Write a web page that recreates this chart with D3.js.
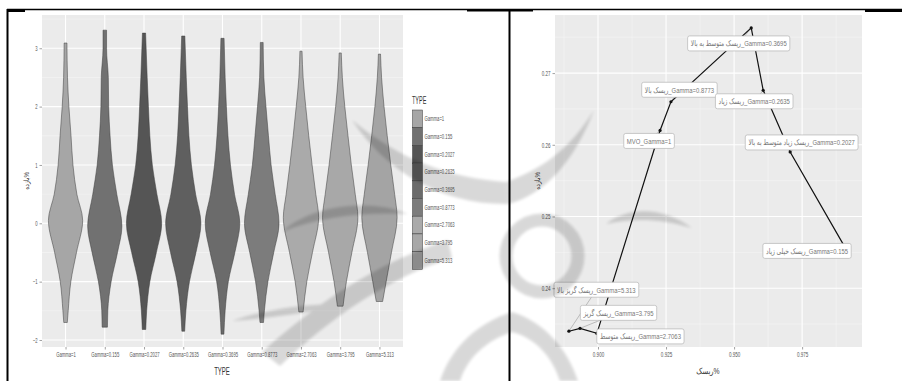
<!DOCTYPE html>
<html>
<head>
<meta charset="utf-8">
<script src="https://cdn.jsdelivr.net/npm/d3@7"></script>
<style>
  html, body { margin: 0; padding: 0; background: #fff; }
  svg { display: block; }
  .nar { font-family: 'Liberation Sans', Arial, 'DejaVu Sans', sans-serif; }
</style>
</head>
<body>
<svg id="chart" width="902" height="381"></svg>
<script>
// ---- violin panel data ----
const categories = ["Gamma=1", "Gamma=0.155", "Gamma=0.2027", "Gamma=0.2635", "Gamma=0.3695",
                    "Gamma=0.8773", "Gamma=2.7063", "Gamma=3.795", "Gamma=5.313"];
const fillGrays = ["#a6a6a6", "#717171", "#555555", "#5f5f5f", "#6b6b6b",
                   "#7c7c7c", "#aaaaaa", "#a8a8a8", "#a4a4a4"];
const returnTicks = [-2, -1, 0, 1, 2, 3];

// density profile of each violin: [return %, relative half width]
const violinGamma1 = [[3.09,0.08],[2.5,0.11],[2.0,0.19],[1.5,0.31],[1.0,0.42],[0.5,0.64],[0.05,0.97],[-0.5,0.62],[-1.0,0.30],[-1.5,0.15],[-1.70,0.10]];
const violinGamma0155 = [[3.31,0.1],[3.0,0.1],[2.5,0.2],[2.0,0.22],[1.5,0.3],[1.0,0.43],[0.5,0.68],[-0.05,0.97],[-0.5,0.72],[-1.0,0.36],[-1.5,0.17],[-1.78,0.15]];
const violinGamma02027 = [[3.26,0.09],[2.5,0.18],[2.0,0.25],[1.5,0.33],[1.0,0.47],[0.5,0.73],[0.0,1.0],[-0.5,0.7],[-1.0,0.33],[-1.5,0.15],[-1.82,0.10]];
const violinGamma02635 = [[3.21,0.09],[2.5,0.17],[2.0,0.24],[1.5,0.32],[1.0,0.46],[0.5,0.7],[0.0,1.0],[-0.5,0.72],[-1.0,0.35],[-1.5,0.15],[-1.85,0.08]];
const violinGamma03695 = [[3.17,0.09],[2.5,0.15],[2.0,0.22],[1.5,0.31],[1.0,0.45],[0.5,0.68],[0.0,0.98],[-0.5,0.7],[-1.0,0.33],[-1.5,0.15],[-1.90,0.08]];
const violinGamma08773 = [[3.10,0.08],[2.5,0.12],[2.0,0.24],[1.5,0.38],[1.0,0.53],[0.5,0.76],[0.0,0.98],[-0.5,0.68],[-1.0,0.35],[-1.5,0.15],[-1.70,0.10]];
const violinGamma27063 = [[2.95,0.06],[2.5,0.12],[2.0,0.27],[1.5,0.44],[1.0,0.63],[0.5,0.84],[0.1,1.0],[-0.5,0.65],[-1.0,0.33],[-1.52,0.12]];
const violinGamma3795 = [[2.92,0.06],[2.5,0.12],[2.0,0.26],[1.5,0.44],[1.0,0.63],[0.5,0.85],[0.1,1.0],[-0.5,0.66],[-1.0,0.35],[-1.42,0.16]];
const violinGamma5313 = [[2.90,0.06],[2.5,0.12],[2.0,0.26],[1.5,0.44],[1.0,0.64],[0.5,0.86],[0.1,1.0],[-0.5,0.68],[-1.0,0.38],[-1.34,0.18]];
const violinProfiles = [violinGamma1, violinGamma0155, violinGamma02027, violinGamma02635, violinGamma03695,
                        violinGamma08773, violinGamma27063, violinGamma3795, violinGamma5313];

// ---- efficient frontier panel data ----
const frontierRisk   = [0.8893, 0.8934, 0.8996, 0.9228, 0.9268, 0.9563, 0.9607, 0.9706, 0.9915];
const frontierReturn = [0.2340, 0.2344, 0.2337, 0.2620, 0.2660, 0.2763, 0.2676, 0.2590, 0.2452];
const frontierLabels = [
  "ریسک گریز بالا_Gamma=5.313",
  "ریسک گریز_Gamma=3.795",
  "ریسک متوسط_Gamma=2.7063",
  "MVO_Gamma=1",
  "ریسک بالا_Gamma=0.8773",
  "ریسک متوسط به بالا_Gamma=0.3695",
  "ریسک زیاد_Gamma=0.2635",
  "ریسک زیاد متوسط به بالا_Gamma=0.2027",
  "ریسک خیلی زیاد_Gamma=0.155"
];
const riskTicks = [0.900, 0.925, 0.950, 0.975];
const frontierReturnTicks = [0.24, 0.25, 0.26, 0.27];

// label placement relative to each point (pixels)
const labelNudge = [[27.5,-41.5],[38.5,-15.5],[43.5,3],[-11,10.5],[8.5,-12],[-12.5,15.5],[-9,11],[11.5,-9.5],[-40,0]];

const svg = d3.select("#chart");
const GRID = "#ffffff", PANEL = "#ebebeb", TICKTXT = "#555";

// horizontally condense a text around its anchor
function squeeze(sel, sx) {
  sel.each(function () {
    const t = d3.select(this);
    const x = +t.attr("x") || 0;
    t.attr("transform", `translate(${x * (1 - sx)},0) scale(${sx},1)`);
  });
}

// ---------- frame ----------
const frame = svg.append("g");
frame.append("line").attr("x1", 7).attr("x2", 902).attr("y1", 9.5).attr("y2", 9.5).attr("stroke", "#000").attr("stroke-width", 1.5);
frame.append("rect").attr("x", 7).attr("y", 9).attr("width", 18).attr("height", 3).attr("fill", "#000");
frame.append("rect").attr("x", 467).attr("y", 9).attr("width", 66).attr("height", 2.5).attr("fill", "#000");
frame.append("rect").attr("x", 865).attr("y", 9).attr("width", 37).attr("height", 3).attr("fill", "#000");
frame.append("line").attr("x1", 7.5).attr("x2", 7.5).attr("y1", 9).attr("y2", 381).attr("stroke", "#000").attr("stroke-width", 2);
frame.append("line").attr("x1", 509.5).attr("x2", 509.5).attr("y1", 9).attr("y2", 381).attr("stroke", "#000").attr("stroke-width", 2);

// ---------- left: violin plot ----------
const L = { x0: 42, x1: 403, y0: 15, y1: 347 };
const xv = d3.scalePoint().domain(categories).range([L.x0, L.x1]).padding(0.6);
const yv = d3.scaleLinear().domain([-2.12, 3.57]).range([L.y1, L.y0]);
const halfMax = xv.step() * 0.45;

const gl = svg.append("g");
gl.append("rect").attr("x", L.x0).attr("y", L.y0).attr("width", L.x1 - L.x0).attr("height", L.y1 - L.y0).attr("fill", PANEL);
gl.selectAll(".ymin").data([-1.5, -0.5, 0.5, 1.5, 2.5, 3.5])
  .join("line").attr("x1", L.x0).attr("x2", L.x1)
  .attr("y1", d => yv(d)).attr("y2", d => yv(d)).attr("stroke", "#f5f5f5").attr("stroke-width", 0.6);
gl.selectAll(".ymaj").data(returnTicks).join("line").attr("x1", L.x0).attr("x2", L.x1)
  .attr("y1", d => yv(d)).attr("y2", d => yv(d)).attr("stroke", GRID).attr("stroke-width", 1.1);
gl.selectAll(".xmaj").data(categories).join("line").attr("y1", L.y0).attr("y2", L.y1)
  .attr("x1", d => xv(d)).attr("x2", d => xv(d)).attr("stroke", GRID).attr("stroke-width", 1.1);

categories.forEach((c, i) => {
  const cx = xv(c);
  const area = d3.area()
    .y(d => yv(d[0]))
    .x0(d => cx - d[1] * halfMax)
    .x1(d => cx + d[1] * halfMax)
    .curve(d3.curveMonotoneY);
  gl.append("path").attr("d", area(violinProfiles[i]))
    .attr("fill", fillGrays[i]).attr("stroke", "#3a3a3a").attr("stroke-width", 0.5);
});

const axL = d3.axisLeft(yv).tickValues(returnTicks).tickFormat(d3.format("d")).tickSize(2.5).tickPadding(2);
const gyl = gl.append("g").attr("transform", `translate(${L.x0},0)`).call(axL);
const axB = d3.axisBottom(xv).tickSize(2.5).tickPadding(3);
const gxl = gl.append("g").attr("transform", `translate(0,${L.y1})`).call(axB);
[gyl, gxl].forEach(g => {
  g.select(".domain").remove();
  g.selectAll(".tick line").attr("stroke", "#444").attr("stroke-width", 0.5);
  g.selectAll(".tick text").attr("class", "nar").attr("fill", TICKTXT).style("font-size", "7px");
  squeeze(g.selectAll(".tick text"), 0.6);
});
const xTitleL = gl.append("text").attr("class", "nar").attr("x", 222).attr("y", 375)
  .attr("text-anchor", "middle").attr("fill", "#333").style("font-size", "10px").text("TYPE");
squeeze(xTitleL, 0.6);
gl.append("text").attr("class", "nar").attr("transform", `translate(29,${(L.y0 + L.y1) / 2}) rotate(-90) scale(0.8,1)`)
  .attr("text-anchor", "middle").attr("fill", "#333").style("font-size", "7.5px").text("بازده%");

// legend
const lg = svg.append("g").attr("transform", "translate(412,0)");
squeeze(lg.append("text").attr("class", "nar").attr("x", 0).attr("y", 104).attr("fill", "#333").style("font-size", "10px").text("TYPE"), 0.55);
const keyH = 17.7;
categories.forEach((c, i) => {
  lg.append("rect").attr("x", 0.5).attr("y", 110 + i * keyH).attr("width", 10).attr("height", keyH)
    .attr("fill", fillGrays[i]).attr("stroke", "#3a3a3a").attr("stroke-width", 0.5);
  squeeze(lg.append("text").attr("class", "nar").attr("x", 12.5).attr("y", 110 + i * keyH + keyH / 2 + 2.4)
    .attr("fill", TICKTXT).style("font-size", "7px").text(c), 0.6);
});

// ---------- right: efficient frontier ----------
const R = { x0: 555, x1: 862, y0: 15, y1: 347 };
const xr = d3.scaleLinear().domain([0.8842, 0.997]).range([R.x0, R.x1]);
const yr = d3.scaleLinear().domain([0.2318, 0.2781]).range([R.y1, R.y0]);

const gr = svg.append("g");
gr.append("rect").attr("x", R.x0).attr("y", R.y0).attr("width", R.x1 - R.x0).attr("height", R.y1 - R.y0).attr("fill", PANEL);
const xMinor = [0.8875, 0.9125, 0.9375, 0.9625, 0.9875];
const yMinor = [0.235, 0.245, 0.255, 0.265, 0.275];
gr.selectAll(".xmin").data(xMinor).join("line").attr("y1", R.y0).attr("y2", R.y1)
  .attr("x1", d => xr(d)).attr("x2", d => xr(d)).attr("stroke", "#f5f5f5").attr("stroke-width", 0.6);
gr.selectAll(".ymin").data(yMinor).join("line").attr("x1", R.x0).attr("x2", R.x1)
  .attr("y1", d => yr(d)).attr("y2", d => yr(d)).attr("stroke", "#f5f5f5").attr("stroke-width", 0.6);
gr.selectAll(".xmaj").data(riskTicks).join("line").attr("y1", R.y0).attr("y2", R.y1)
  .attr("x1", d => xr(d)).attr("x2", d => xr(d)).attr("stroke", GRID).attr("stroke-width", 1.1);
gr.selectAll(".ymaj").data(frontierReturnTicks).join("line").attr("x1", R.x0).attr("x2", R.x1)
  .attr("y1", d => yr(d)).attr("y2", d => yr(d)).attr("stroke", GRID).attr("stroke-width", 1.1);

const pts = frontierRisk.map((r, i) => ({ r, v: frontierReturn[i], label: frontierLabels[i], nudge: labelNudge[i] }));

gr.selectAll(".seg").data(pts).join("line")
  .attr("x1", d => xr(d.r)).attr("y1", d => yr(d.v))
  .attr("x2", d => xr(d.r) + d.nudge[0]).attr("y2", d => yr(d.v) + d.nudge[1])
  .attr("stroke", "#888").attr("stroke-width", 0.5);

gr.append("path").attr("d", d3.line().x(d => xr(d.r)).y(d => yr(d.v))(pts))
  .attr("fill", "none").attr("stroke", "#111").attr("stroke-width", 1.2);
gr.selectAll(".pt").data(pts).join("circle")
  .attr("cx", d => xr(d.r)).attr("cy", d => yr(d.v)).attr("r", 1.6).attr("fill", "#111");

const LSX = 0.74;
pts.forEach(d => {
  const cx = xr(d.r) + d.nudge[0], cy = yr(d.v) + d.nudge[1];
  const g = gr.append("g");
  const rect = g.append("rect");
  const t = g.append("text").attr("class", "nar").attr("x", cx).attr("y", cy + 2.9)
    .attr("text-anchor", "middle").attr("fill", "#777").style("font-size", "8px").text(d.label);
  const w = t.node().getComputedTextLength() * LSX + 6;
  squeeze(t, LSX);
  rect.attr("x", cx - w / 2).attr("y", cy - 7.5).attr("width", w).attr("height", 15)
    .attr("rx", 2).attr("fill", "#fff").attr("stroke", "#b5b5b5").attr("stroke-width", 0.7);
});

const axRL = d3.axisLeft(yr).tickValues(frontierReturnTicks).tickFormat(d3.format(".2f")).tickSize(2.5).tickPadding(2);
const gyr = gr.append("g").attr("transform", `translate(${R.x0},0)`).call(axRL);
const axRB = d3.axisBottom(xr).tickValues(riskTicks).tickFormat(d3.format(".3f")).tickSize(2.5).tickPadding(3);
const gxr = gr.append("g").attr("transform", `translate(0,${R.y1})`).call(axRB);
[gyr, gxr].forEach(g => {
  g.select(".domain").remove();
  g.selectAll(".tick line").attr("stroke", "#444").attr("stroke-width", 0.5);
  g.selectAll(".tick text").attr("class", "nar").attr("fill", TICKTXT).style("font-size", "7px");
  squeeze(g.selectAll(".tick text"), 0.65);
});
squeeze(gr.append("text").attr("class", "nar").attr("x", 708).attr("y", 374)
  .attr("text-anchor", "middle").attr("fill", "#333").style("font-size", "8.5px").text("ریسک%"), 0.8);
gr.append("text").attr("class", "nar").attr("transform", `translate(540,${(R.y0 + R.y1) / 2}) rotate(-90) scale(0.8,1)`)
  .attr("text-anchor", "middle").attr("fill", "#333").style("font-size", "7.5px").text("بازده%");

// ---------- faint emblem laid over the middle of the page ----------
const defs = svg.append("defs");
defs.append("filter").attr("id", "soft").attr("x", "-10%").attr("y", "-10%").attr("width", "120%").attr("height", "120%")
  .append("feGaussianBlur").attr("stdDeviation", 1.8);
const emblem = svg.append("g").attr("opacity", 0.15).attr("filter", "url(#soft)").attr("pointer-events", "none");
const emblemShapes = [
  "M352,120 C385,170 440,205 508,204 L506,182 C450,178 400,160 352,120 Z",
  "M594,110 C575,160 545,195 508,204 L506,182 C540,170 570,150 594,110 Z",
  "M282,232 C310,205 370,198 408,214 C365,212 320,216 282,232 Z",
  "M606,224 C630,205 665,208 692,228 C660,218 632,218 606,224 Z",
  "M262,352 C320,300 380,262 448,240 L452,258 C392,276 332,316 280,366 Z",
  "M232,321 C265,310 300,304 345,304 C300,315 265,318 232,321 Z",
  "M440,381 C452,345 480,322 512,312 C545,322 568,350 578,381 L560,381 C552,356 535,338 512,332 C488,340 468,356 460,381 Z"
];
emblemShapes.forEach(d => emblem.append("path").attr("d", d).attr("fill", "#000"));
emblem.append("circle").attr("cx", 542).attr("cy", 256).attr("r", 36)
  .attr("fill", "none").attr("stroke", "#000").attr("stroke-width", 13);
</script>
</body>
</html>
